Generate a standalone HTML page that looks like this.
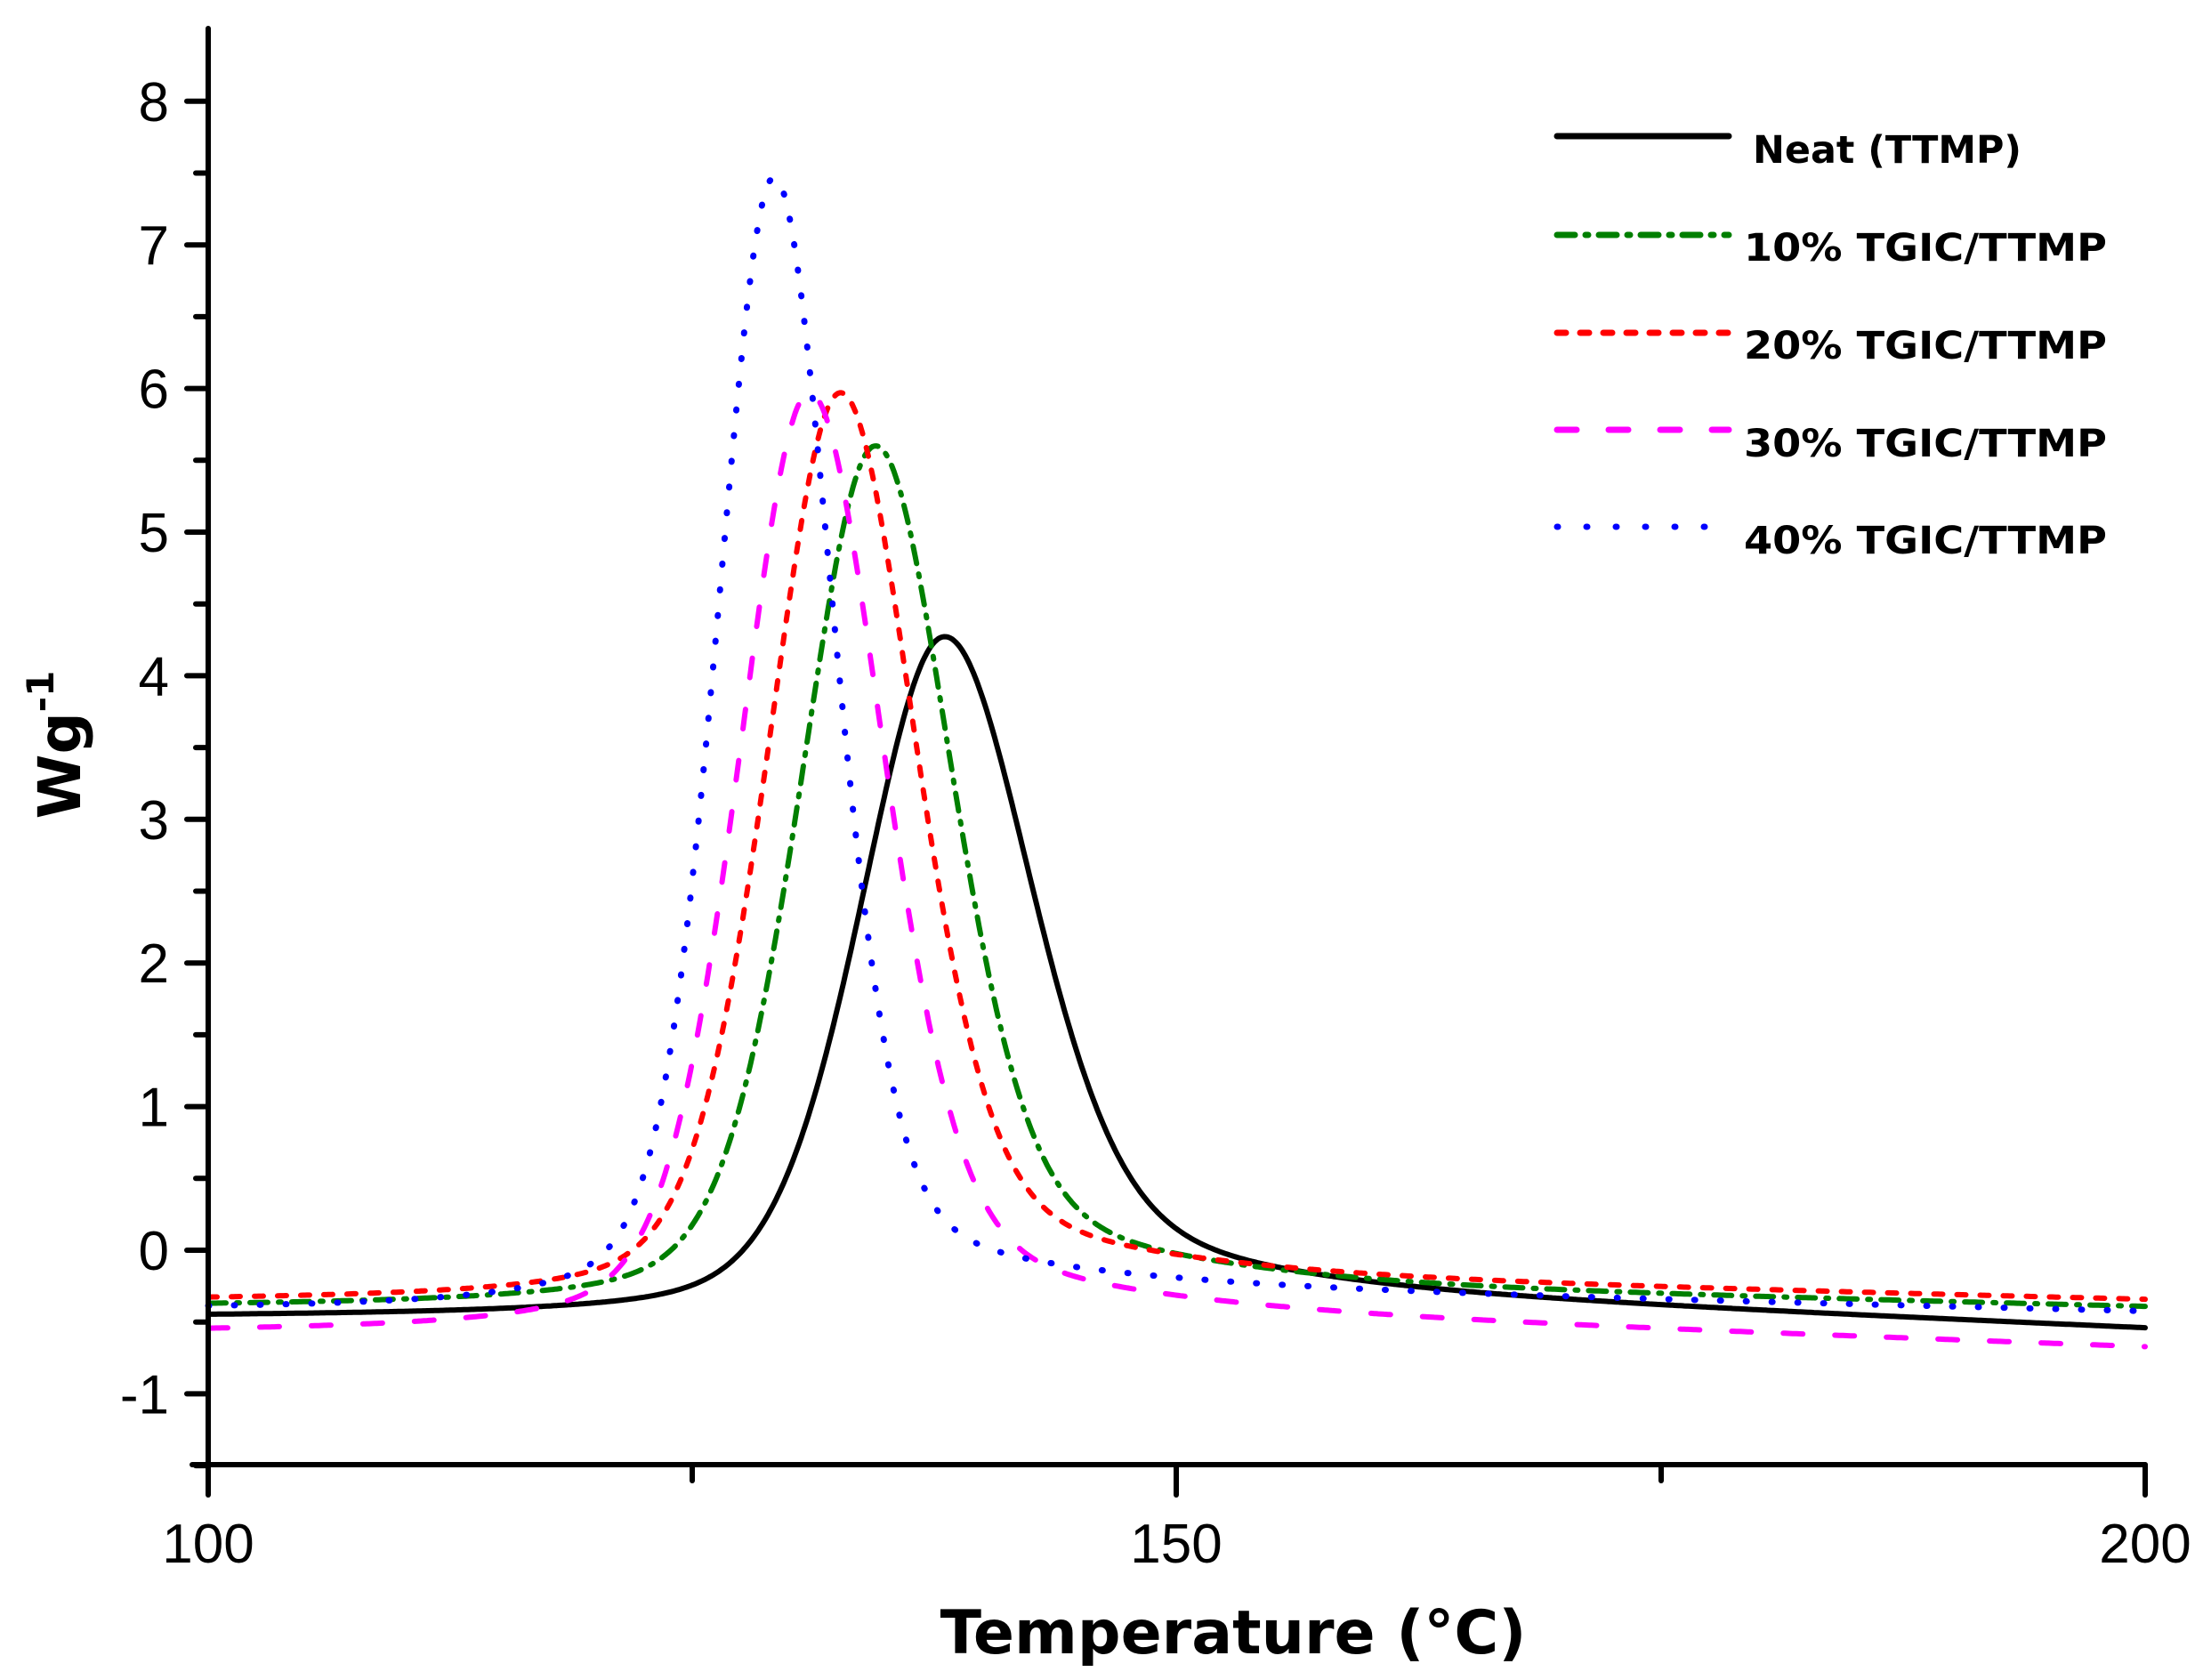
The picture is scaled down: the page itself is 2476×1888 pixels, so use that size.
<!DOCTYPE html>
<html><head><meta charset="utf-8"><style>
html,body{margin:0;padding:0;background:#fff;}
svg{display:block;}
</style></head><body>
<svg id="s" width="2476" height="1888" xmlns="http://www.w3.org/2000/svg">
<g id="curves" fill="none" stroke-linejoin="round"></g>
<g stroke="#000" stroke-width="6" stroke-linecap="round">
<line x1="234" y1="32" x2="234" y2="1680"/>
<line x1="216" y1="1646" x2="2411" y2="1646"/>
<line x1="2411" y1="1646" x2="2411" y2="1680"/>
<line x1="1322" y1="1646" x2="1322" y2="1680"/>
<line x1="778" y1="1646" x2="778" y2="1664"/>
<line x1="1867" y1="1646" x2="1867" y2="1664"/>
</g>
<g id="yt" stroke="#000" stroke-width="6" stroke-linecap="round"></g>
<g font-family="'Liberation Sans',Arial,sans-serif" font-size="62" fill="#000" text-anchor="end" id="yl"></g>
<g font-family="'Liberation Sans',Arial,sans-serif" font-size="62" fill="#000" text-anchor="middle">
<text x="234" y="1756">100</text><text x="1322" y="1756">150</text><text x="2411" y="1756">200</text>
</g>
<text x="1386" y="1858" font-family="'DejaVu Sans',Verdana,sans-serif" font-weight="bold" font-size="68" text-anchor="middle">Temperature (°C)</text>
<text transform="translate(90,837) rotate(-90)" font-family="'DejaVu Sans',Verdana,sans-serif" font-weight="bold" font-size="66" text-anchor="middle">Wg<tspan font-size="42" dy="-30">-1</tspan></text>
<g font-family="'DejaVu Sans',Verdana,sans-serif" font-weight="bold" font-size="43" fill="#000">
<text x="1970" y="183" textLength="302" lengthAdjust="spacingAndGlyphs">Neat (TTMP)</text>
<text x="1960" y="293" textLength="408" lengthAdjust="spacingAndGlyphs">10% TGIC/TTMP</text>
<text x="1960" y="403" textLength="408" lengthAdjust="spacingAndGlyphs">20% TGIC/TTMP</text>
<text x="1960" y="513" textLength="408" lengthAdjust="spacingAndGlyphs">30% TGIC/TTMP</text>
<text x="1960" y="622" textLength="408" lengthAdjust="spacingAndGlyphs">40% TGIC/TTMP</text>
</g>
<g fill="none" stroke-linecap="round" stroke-width="7">
<line x1="1750" y1="153" x2="1943" y2="153" stroke="#000"/>
<line x1="1750" y1="264" x2="1943" y2="264" stroke="#007f00" stroke-dasharray="20,12,3,12"/>
<line x1="1750" y1="374" x2="1943" y2="374" stroke="#ff0000" stroke-dasharray="10,16"/>
<line x1="1750" y1="483" x2="1943" y2="483" stroke="#ff00ff" stroke-dasharray="22,36"/>
<line x1="1750" y1="592" x2="1943" y2="592" stroke="#0000ff" stroke-dasharray="1,32"/>
</g>
</svg>
<script>
const NS="http://www.w3.org/2000/svg";
const X=T=>234+(T-100)*21.77, Y=W=>1405-161.4*W;
const yt=document.getElementById('yt'), yl=document.getElementById('yl');
for(let v=-1.5;v<=8.01;v+=0.5){const y=Y(v);const l=document.createElementNS(NS,'line');
 const major=Math.abs(v-Math.round(v))<1e-6;
 l.setAttribute('x1',major?210:220);l.setAttribute('x2',234);l.setAttribute('y1',y);l.setAttribute('y2',y);yt.appendChild(l);
 if(major&&v>=-1){const t=document.createElementNS(NS,'text');t.setAttribute('x',190);t.setAttribute('y',y+22);t.textContent=v;yl.appendChild(t);}}
const series=[
 {c:'#000',d:null,w:6,Tp:137.9,P:4.27,fl:10.2,fr:10.8,pre:-0.47,e1:-0.27,e2:-0.55,k:0.1},
 {c:'#007f00',d:'20,12,3,12',w:6,Tp:134.4,P:5.6,fl:9.2,fr:9.4,pre:-0.40,e1:-0.25,e2:-0.40,k:0.08},
 {c:'#ff0000',d:'10,16',w:6,Tp:132.6,P:5.97,fl:8.9,fr:9.2,pre:-0.36,e1:-0.2,e2:-0.35,k:0.05},
 {c:'#ff00ff',d:'22,36',w:6,Tp:131.0,P:5.97,fl:8.7,fr:9.2,pre:-0.58,e1:-0.45,e2:-0.68,k:0.03},
 {c:'#0000ff',d:'1,28',w:7,Tp:129.2,P:7.47,fl:7.0,fr:7.3,pre:-0.42,e1:-0.28,e2:-0.43,k:0.02}
];
const eta=0.3;
const g=document.getElementById('curves');
series.forEach(s=>{
 const post=T=>s.e1+(s.e2-s.e1)*(T-150)/50+s.k*2/(1+Math.exp((T-150)/6));
 const base=T=>{const S=1/(1+Math.exp(-(T-s.Tp-1)/3));return s.pre+(post(T)-s.pre)*S;};
 const A=s.P-base(s.Tp);
 let d='';
 for(let T=100;T<=200.001;T+=0.1){
  const F=T<s.Tp?s.fl:s.fr;const sg=F/2.355, gm=F/2;const u=T-s.Tp;
  const f=(1-eta)*Math.exp(-u*u/(2*sg*sg))+eta/(1+(u/gm)**2);
  const W=base(T)+A*f;
  d+=(d?'L':'M')+X(T).toFixed(1)+','+Y(W).toFixed(1);
 }
 const p=document.createElementNS(NS,'path');p.setAttribute('d',d);p.setAttribute('stroke',s.c);
 p.setAttribute('stroke-width',s.w);p.setAttribute('stroke-linecap','round');if(s.d)p.setAttribute('stroke-dasharray',s.d);
 g.appendChild(p);
});
</script>
</body></html>
